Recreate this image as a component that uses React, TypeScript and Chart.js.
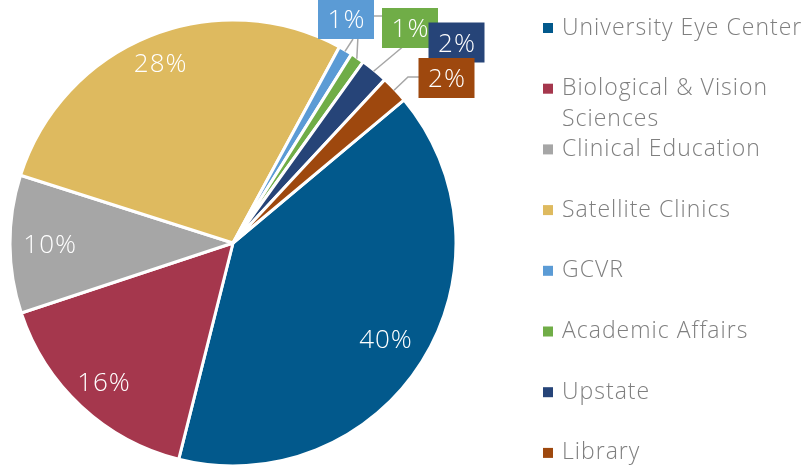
import React, { useEffect, useRef } from "react";
import { Chart, registerables } from "chart.js";

Chart.register(...registerables);

const categories = [
  "University Eye Center",
  "Biological & Vision Sciences",
  "Clinical Education",
  "Satellite Clinics",
  "GCVR",
  "Academic Affairs",
  "Upstate",
  "Library",
];
const legendLines = [
  ["University Eye Center"],
  ["Biological & Vision", "Sciences"],
  ["Clinical Education"],
  ["Satellite Clinics"],
  ["GCVR"],
  ["Academic Affairs"],
  ["Upstate"],
  ["Library"],
];
const shares = [40, 16, 10, 28, 1, 1, 2, 2];
const sliceColors = [
  "#02598C",
  "#A5374D",
  "#A6A6A6",
  "#DEBA5F",
  "#5B9BD5",
  "#70AD47",
  "#264478",
  "#9E480E",
];

const FONT = '"Open Sans", "Liberation Sans", sans-serif';

// label placement (styling / layout, not data)
const insideFrac = [0.81, 0.85, 0.82, 0.87];
const outsideBoxes: Record<number, { cx: number; cy: number; path: number[][] }> = {
  4: { cx: 346, cy: 19, path: [[353, 39]] },
  5: { cx: 410, cy: 28, path: [[359, 16], [382, 16]] },
  6: { cx: 456.5, cy: 42.5, path: [[430, 24]] },
  7: { cx: 446.5, cy: 78, path: [[408, 77], [419, 77]] },
};

const labelPlugin = {
  id: "pieLabels",
  afterDatasetsDraw(chart: any) {
    const ctx = chart.ctx;
    const meta = chart.getDatasetMeta(0);
    const data = chart.data.datasets[0].data as number[];
    ctx.save();
    ctx.font = `300 26px ${FONT}`;
    (ctx as any).letterSpacing = "1px";
    ctx.textAlign = "center";
    ctx.textBaseline = "middle";
    // inside labels
    meta.data.forEach((arc: any, i: number) => {
      if (i >= insideFrac.length) return;
      const p = arc.getProps(["x", "y", "startAngle", "endAngle", "outerRadius"], true);
      const mid = (p.startAngle + p.endAngle) / 2;
      const r = p.outerRadius * insideFrac[i];
      ctx.fillStyle = "#ffffff";
      ctx.fillText(`${data[i]}%`, p.x + Math.cos(mid) * r, p.y + Math.sin(mid) * r + 2);
    });
    // leader lines
    ctx.strokeStyle = "#A6A6A6";
    ctx.lineWidth = 1.5;
    Object.keys(outsideBoxes).forEach((k) => {
      const i = Number(k);
      const arc: any = meta.data[i];
      const p = arc.getProps(["x", "y", "startAngle", "endAngle", "outerRadius"], true);
      const mid = (p.startAngle + p.endAngle) / 2;
      const r = p.outerRadius - 1;
      ctx.beginPath();
      ctx.moveTo(p.x + Math.cos(mid) * r, p.y + Math.sin(mid) * r);
      outsideBoxes[i].path.forEach(([x, y]) => ctx.lineTo(x, y));
      ctx.stroke();
    });
    // boxes
    Object.keys(outsideBoxes).forEach((k) => {
      const i = Number(k);
      const b = outsideBoxes[i];
      const w = 56;
      const h = 40;
      ctx.fillStyle = sliceColors[i];
      ctx.fillRect(b.cx - w / 2, b.cy - h / 2, w, h);
      ctx.fillStyle = "#ffffff";
      ctx.fillText(`${data[i]}%`, b.cx + 0.5, b.cy + 2);
    });
    ctx.restore();
  },
};

const legendPlugin = {
  id: "sideLegend",
  afterDraw(chart: any) {
    const ctx = chart.ctx;
    ctx.save();
    ctx.font = `300 23px ${FONT}`;
    (ctx as any).letterSpacing = "1px";
    ctx.textAlign = "left";
    ctx.textBaseline = "middle";
    legendLines.forEach((lines, i) => {
      const y = 28 + i * 60.7;
      ctx.fillStyle = sliceColors[i];
      ctx.fillRect(543, y - 5, 10, 10);
      ctx.fillStyle = "#7F7F7F";
      lines.forEach((t, j) => ctx.fillText(t, 562, y + j * 31));
    });
    ctx.restore();
  },
};

export default function App() {
  const ref = useRef<HTMLCanvasElement | null>(null);
  useEffect(() => {
    if (!ref.current) return;
    const chart = new Chart(ref.current, {
      type: "pie",
      data: {
        labels: categories,
        datasets: [
          {
            data: shares,
            backgroundColor: sliceColors,
            borderColor: "#ffffff",
            borderWidth: 3,
          },
        ],
      },
      options: {
        animation: false,
        responsive: false,
        rotation: 50.1,
        radius: 223,
        layout: { padding: { left: 0, right: 343, top: 19, bottom: 0 } },
        plugins: {
          legend: { display: false },
          tooltip: { enabled: false },
        },
      },
      plugins: [labelPlugin, legendPlugin],
    });
    return () => chart.destroy();
  }, []);
  return (
    <div style={{ position: "absolute", left: 0, top: 0, width: 809, height: 467 }}>
      <canvas ref={ref} width={809} height={467} style={{ width: 809, height: 467 }} />
    </div>
  );
}
